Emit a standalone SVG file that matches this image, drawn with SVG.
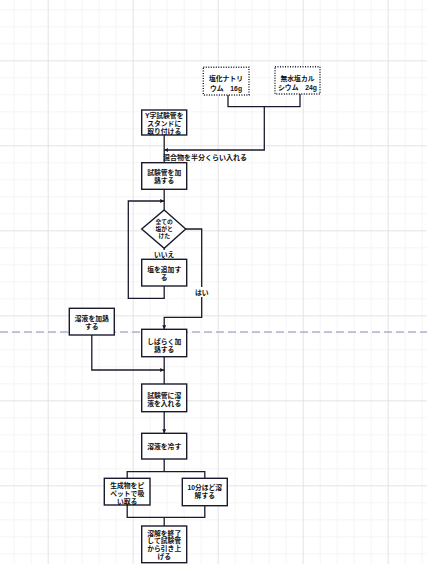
<svg xmlns="http://www.w3.org/2000/svg" width="427" height="564" viewBox="0 0 427 564">
<defs>
<pattern id="minor" patternUnits="userSpaceOnUse" x="13.7" y="9.3" width="17" height="17">
<path d="M0,0 H17 M0,0 V17" fill="none" stroke="#ebebeb" stroke-width="1"/>
</pattern>
<pattern id="major" patternUnits="userSpaceOnUse" x="47.7" y="60.3" width="85" height="85">
<path d="M0,0 H85 M0,0 V85" fill="none" stroke="#d8d8d8" stroke-width="1"/>
</pattern>
<marker id="arr" viewBox="0 0 6 6" refX="6" refY="3" markerWidth="4" markerHeight="4" orient="auto" markerUnits="userSpaceOnUse">
<path d="M0,0 L6,3 L0,6 Z" fill="#1a1a2e"/>
</marker>
<style>
.box{fill:#fff;stroke:#1a1a2e;stroke-width:1.4}
.src{fill:#fff;stroke:#1a1a2e;stroke-width:1.4;stroke-dasharray:1 1.5}
.t{font-family:"Liberation Sans","Noto Sans CJK JP",sans-serif;font-size:6.8px;font-weight:bold;fill:#111;text-anchor:middle;dominant-baseline:central}
.d{font-size:5.8px}
.lbl{font-family:"Liberation Sans","Noto Sans CJK JP",sans-serif;font-size:7px;font-weight:bold;fill:#111;dominant-baseline:central}
.c{fill:none;stroke:#1a1a2e;stroke-width:1.3}
</style>
</defs>
<rect width="427" height="564" fill="#fff"/>
<rect width="427" height="564" fill="url(#minor)"/>
<rect width="427" height="564" fill="url(#major)"/>
<line x1="0" y1="332" x2="427" y2="332" stroke="#8a8ab8" stroke-width="1.2" stroke-dasharray="8 4"/>

<g id="connectors">
<path class="c" d="M228,95 V106.7 H300 V94"/>
<path class="c" d="M264.3,106.7 V150 H164.2" marker-end="url(#arr)"/>
<path class="c" d="M164.2,135 V162.7"/>
<path class="c" d="M164.2,189.3 V210"/>
<path class="c" d="M164.2,248.3 V259.3"/>
<path class="c" d="M164.2,286 V298.3 H128.3 V201 H164.2" marker-end="url(#arr)"/>
<path class="c" d="M185.7,229 H201.7 V317.3 H164.2 V329.3" marker-end="url(#arr)"/>
<path class="c" d="M164.2,356.7 V384"/>
<path class="c" d="M91.8,335 V370 H164.2" marker-end="url(#arr)"/>
<path class="c" d="M164.2,411.7 V433.3" marker-end="url(#arr)"/>
<path class="c" d="M164.2,459 V471.7 M127.2,478.3 V471.7 H204.8 V478.3"/>
<path class="c" d="M127.2,505 V517.3 H204.8 V505.7 M164.2,517.3 V526"/>
<text class="lbl" x="163" y="157.5">混合物を半分くらい入れる</text>
<rect x="152" y="250" width="24" height="8" fill="#fff"/>
<text class="t" x="164.2" y="254">いいえ</text>
<rect x="194" y="287" width="16" height="10" fill="#fff"/>
<text class="t" x="201.7" y="292">はい</text>
</g>

<g id="n_nacl">
<rect class="src" x="203.3" y="67.3" width="45.7" height="27.7"/>
<text class="t"><tspan x="226" y="78">塩化ナトリ</tspan><tspan x="226" y="87.5">ウム　16g</tspan></text>
</g>
<g id="n_cacl">
<rect class="src" x="275" y="66.7" width="45" height="27.3"/>
<text class="t"><tspan x="297.5" y="77.5">無水塩カル</tspan><tspan x="297.5" y="87">シウム　24g</tspan></text>
</g>
<g id="n_stand">
<rect class="box" x="141.7" y="110" width="45" height="25"/>
<text class="t"><tspan x="164.2" y="114.5">Y字試験管を</tspan><tspan x="164.2" y="122.5">スタンドに</tspan><tspan x="164.2" y="130.5">取り付ける</tspan></text>
</g>
<g id="n_heat1">
<rect class="box" x="141.7" y="162.7" width="45" height="26.6"/>
<text class="t"><tspan x="164.2" y="172">試験管を加</tspan><tspan x="164.2" y="180">熱する</tspan></text>
</g>
<g id="n_dec">
<polygon class="box" points="164.2,210 185.7,229 164.2,248.3 141.7,229"/>
<text class="t d"><tspan x="164.2" y="222.3">全ての</tspan><tspan x="164.2" y="229">塩がと</tspan><tspan x="164.2" y="235.7">けた</tspan></text>
</g>
<g id="n_add">
<rect class="box" x="141.7" y="259.3" width="45" height="26.7"/>
<text class="t"><tspan x="164.2" y="269">塩を追加す</tspan><tspan x="164.2" y="277">る</tspan></text>
</g>
<g id="n_solheat">
<rect class="box" x="69.3" y="308.3" width="45" height="26.7"/>
<text class="t"><tspan x="91.8" y="318">溶液を加熱</tspan><tspan x="91.8" y="326">する</tspan></text>
</g>
<g id="n_heat2">
<rect class="box" x="141.7" y="329.3" width="45" height="27.4"/>
<text class="t"><tspan x="164.2" y="341">しばらく加</tspan><tspan x="164.2" y="349">熱する</tspan></text>
</g>
<g id="n_pour">
<rect class="box" x="141.7" y="384" width="45" height="27.7"/>
<text class="t"><tspan x="164.2" y="394.8">試験管に溶</tspan><tspan x="164.2" y="402.8">液を入れる</tspan></text>
</g>
<g id="n_cool">
<rect class="box" x="141.7" y="433.3" width="45" height="25.7"/>
<text class="t" x="164.2" y="446.3">溶液を冷す</text>
</g>
<g id="n_pipette">
<rect class="box" x="104.3" y="478.3" width="45.7" height="26.7"/>
<text class="t"><tspan x="127.2" y="484.7">生成物をピ</tspan><tspan x="127.2" y="492.7">ペットで吸</tspan><tspan x="127.2" y="500.7">い取る</tspan></text>
</g>
<g id="n_dissolve">
<rect class="box" x="182.3" y="478.3" width="45" height="27.4"/>
<text class="t"><tspan x="204.8" y="487">10分ほど溶</tspan><tspan x="204.8" y="495">解する</tspan></text>
</g>
<g id="n_end">
<rect class="box" x="141.7" y="526" width="45" height="36.7"/>
<text class="t"><tspan x="164.2" y="532.6">溶解を終了</tspan><tspan x="164.2" y="540.3">して試験管</tspan><tspan x="164.2" y="548">から引き上</tspan><tspan x="164.2" y="555.7">げる</tspan></text>
</g>
</svg>
